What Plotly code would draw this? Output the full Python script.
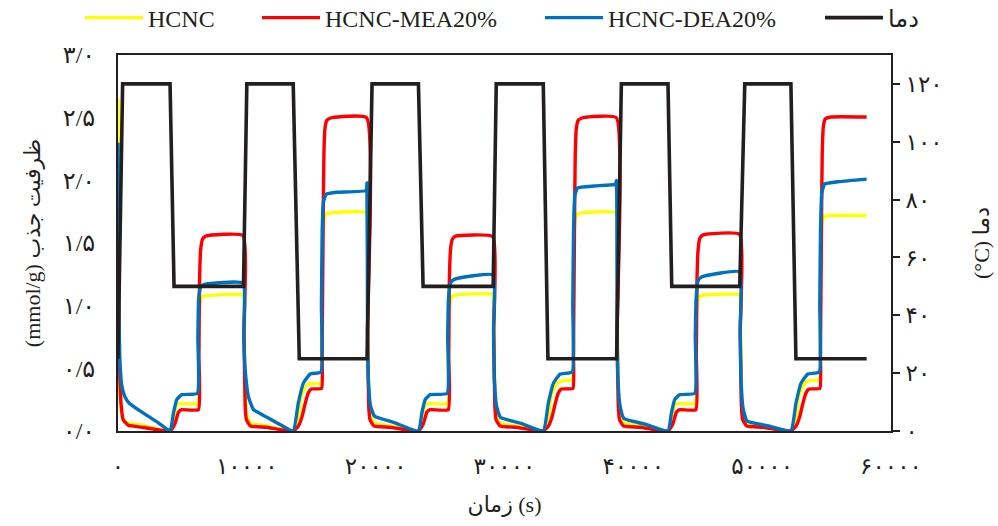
import plotly.graph_objects as go

# ---------------- data ----------------
# time in seconds
temp_t = [0, 360, 4040, 4350, 9740, 10000, 13600, 14070, 19330, 19720, 23320, 23680,
          29120, 29360, 33010, 33370, 38700, 39070, 42690, 42980, 48260, 48650, 52230,
          52620, 58110]
temp_v = [25, 120, 120, 50, 50, 120, 120, 25, 25, 120, 120, 50,
          50, 120, 120, 25, 25, 120, 120, 50, 50, 120, 120, 25, 25]

hcnc_t = [0, 60, 150, 300, 550, 2000, 4040,
          4300, 4560, 4950, 6200, 6240, 6300, 6400, 6600, 9700,
          9790, 9870, 9970, 10280, 11600, 13600,
          14000, 14220, 14600, 15000, 15780, 15820, 15880, 15960, 16130, 16500, 19300,
          19380, 19460, 19560, 19870, 21200, 23320,
          23580, 23840, 24230, 25590, 25630, 25690, 25790, 25990, 29100,
          29170, 29250, 29350, 29660, 31000, 33010,
          33410, 33630, 34010, 34410, 35290, 35330, 35390, 35470, 35640, 36000, 38680,
          38750, 38830, 38930, 39240, 40600, 42690,
          42950, 43210, 43600, 44810, 44850, 44910, 45010, 45210, 48240,
          48310, 48390, 48490, 48800, 50100, 52230,
          52630, 52850, 53230, 53630, 54460, 54500, 54560, 54640, 54810, 55200, 58110]
hcnc_v = [2.65, 1.10, 0.32, 0.14, 0.07, 0.045, 0.00,
          0.09, 0.21, 0.22, 0.22, 0.60, 0.95, 1.05, 1.075, 1.085,
          1.00, 0.30, 0.14, 0.065, 0.04, 0.00,
          0.10, 0.28, 0.36, 0.38, 0.38, 0.80, 1.50, 1.68, 1.73, 1.74, 1.74,
          1.00, 0.30, 0.14, 0.065, 0.04, 0.00,
          0.09, 0.21, 0.22, 0.22, 0.60, 0.95, 1.05, 1.08, 1.09,
          1.00, 0.30, 0.14, 0.065, 0.04, 0.00,
          0.10, 0.28, 0.37, 0.40, 0.41, 0.80, 1.50, 1.68, 1.73, 1.74, 1.74,
          1.00, 0.30, 0.14, 0.065, 0.04, 0.00,
          0.09, 0.21, 0.22, 0.22, 0.60, 0.95, 1.05, 1.08, 1.085,
          1.00, 0.30, 0.14, 0.065, 0.04, 0.00,
          0.10, 0.28, 0.37, 0.40, 0.41, 0.80, 1.50, 1.66, 1.71, 1.72, 1.72]

mea_t = [0, 100, 250, 400, 800, 2000, 4040,
         4430, 4690, 4950, 6240, 6280, 6330, 6420, 6560, 6800, 9700,
         9780, 9870, 9970, 10280, 11500, 13600,
         14000, 14300, 14530, 14750, 15000, 15800, 15840, 15920, 15980, 16070, 16220, 16600, 19300,
         19370, 19460, 19560, 19870, 21100, 23320,
         23710, 23970, 24230, 25630, 25670, 25720, 25810, 25950, 26200, 29100,
         29160, 29250, 29350, 29660, 30900, 33010,
         33410, 33710, 33940, 34160, 34410, 35310, 35350, 35430, 35490, 35580, 35730, 36100, 38680,
         38740, 38830, 38930, 39240, 40500, 42690,
         43080, 43340, 43600, 44850, 44890, 44940, 45030, 45170, 45420, 48240,
         48300, 48390, 48490, 48800, 50000, 52230,
         52630, 52930, 53160, 53380, 53630, 54480, 54520, 54600, 54660, 54750, 54900, 55300, 58110]
mea_v = [1.62, 0.60, 0.20, 0.09, 0.045, 0.028, 0.00,
         0.06, 0.15, 0.17, 0.17, 0.60, 1.20, 1.45, 1.53, 1.555, 1.56,
         0.80, 0.20, 0.09, 0.04, 0.03, 0.00,
         0.04, 0.12, 0.22, 0.30, 0.335, 0.34, 0.60, 1.60, 2.20, 2.42, 2.48, 2.50, 2.50,
         0.80, 0.20, 0.09, 0.04, 0.03, 0.00,
         0.06, 0.15, 0.17, 0.17, 0.60, 1.20, 1.45, 1.53, 1.555, 1.55,
         0.80, 0.20, 0.09, 0.04, 0.03, 0.00,
         0.04, 0.12, 0.22, 0.30, 0.335, 0.34, 0.60, 1.60, 2.20, 2.42, 2.48, 2.50, 2.50,
         0.80, 0.20, 0.09, 0.04, 0.03, 0.00,
         0.06, 0.15, 0.17, 0.17, 0.60, 1.20, 1.45, 1.54, 1.565, 1.57,
         0.80, 0.20, 0.09, 0.04, 0.03, 0.00,
         0.04, 0.12, 0.22, 0.30, 0.335, 0.34, 0.60, 1.60, 2.20, 2.43, 2.49, 2.505, 2.505]

dea_t = [0, 60, 150, 300, 550, 900, 2000, 3200, 4040,
         4300, 4560, 4950, 6160, 6200, 6260, 6420, 6700, 9700,
         9760, 9870, 10130, 10520, 11560, 12600, 13600,
         13990, 14380, 14920, 15750, 15790, 15850, 15950, 16170, 17000, 19260, 19320,
         19370, 19440, 19600, 19900, 21500, 23320,
         23580, 23840, 24230, 25550, 25590, 25650, 25810, 26100, 29100,
         29150, 29220, 29380, 29680, 31300, 33010,
         33400, 33790, 34330, 35260, 35300, 35360, 35460, 35680, 37000, 38620, 38690,
         38740, 38810, 38970, 39270, 40900, 42690,
         42950, 43210, 43600, 44770, 44810, 44870, 45030, 45320, 48240,
         48290, 48360, 48520, 48820, 50500, 52230,
         52620, 53010, 53550, 54430, 54470, 54530, 54630, 54850, 56000, 58110]
dea_v = [2.30, 1.00, 0.55, 0.36, 0.27, 0.22, 0.14, 0.06, 0.00,
         0.14, 0.25, 0.29, 0.30, 0.75, 1.05, 1.15, 1.17, 1.18,
         0.75, 0.49, 0.27, 0.17, 0.11, 0.05, 0.00,
         0.22, 0.38, 0.455, 0.47, 1.00, 1.60, 1.83, 1.89, 1.905, 1.92, 1.98,
         0.80, 0.40, 0.20, 0.12, 0.065, 0.00,
         0.14, 0.25, 0.29, 0.30, 0.75, 1.05, 1.18, 1.21, 1.245,
         0.80, 0.40, 0.20, 0.11, 0.06, 0.00,
         0.22, 0.38, 0.455, 0.47, 1.00, 1.60, 1.88, 1.94, 1.955, 1.97, 2.00,
         0.80, 0.40, 0.20, 0.10, 0.055, 0.00,
         0.14, 0.25, 0.29, 0.30, 0.75, 1.05, 1.20, 1.23, 1.27,
         0.80, 0.40, 0.18, 0.08, 0.04, 0.00,
         0.22, 0.38, 0.455, 0.47, 1.00, 1.60, 1.90, 1.97, 1.99, 2.01]

x_ticks = [0, 10000, 20000, 30000, 40000, 50000, 60000]
x_ticktext = ["۰", "۱۰۰۰۰", "۲۰۰۰۰", "۳۰۰۰۰", "۴۰۰۰۰", "۵۰۰۰۰", "۶۰۰۰۰"]
y_ticks = [0, 0.5, 1.0, 1.5, 2.0, 2.5, 3.0]
y_ticktext = ["۰/۰", "۰/۵", "۱/۰", "۱/۵", "۲/۰", "۲/۵", "۳/۰"]
y2_ticks = [0, 20, 40, 60, 80, 100, 120]
y2_ticktext = ["۰", "۲۰", "۴۰", "۶۰", "۸۰", "۱۰۰", "۱۲۰"]

names = ["HCNC", "HCNC-MEA20%", "HCNC-DEA20%", "دما"]
colors = ["#FFFF00", "#FF0000", "#0070C0", "#231F20"]

# ---------------- figure ----------------
FONT = "Liberation Serif, DejaVu Sans, serif"
INK = "#231F20"
L, R, T, B = 118, 107, 55, 95
W, H = 998, 526
curve = dict(width=3.4, shape="spline", smoothing=0.4)

fig = go.Figure()
fig.add_trace(go.Scatter(x=temp_t, y=temp_v, name=names[3], yaxis="y2", mode="lines",
                         line=dict(color=colors[3], width=3.6), legend="legend4",
                         showlegend=True))
fig.add_trace(go.Scatter(x=hcnc_t, y=hcnc_v, name=names[0], mode="lines",
                         line=dict(color=colors[0], **curve), legend="legend",
                         showlegend=True))
fig.add_trace(go.Scatter(x=mea_t, y=mea_v, name=names[1], mode="lines",
                         line=dict(color=colors[1], **curve), legend="legend2",
                         showlegend=True))
fig.add_trace(go.Scatter(x=dea_t, y=dea_v, name=names[2], mode="lines",
                         line=dict(color=colors[2], **curve), legend="legend3",
                         showlegend=True))

legend_common = dict(orientation="h", yanchor="middle", xanchor="left",
                     xref="container", yref="container",
                     y=1 - 18 / H, bgcolor="rgba(0,0,0,0)",
                     font=dict(family=FONT, size=24, color=INK), itemwidth=58)
fig.update_layout(
    showlegend=True,
    legend=dict(x=80 / W, **legend_common),
    legend2=dict(x=257 / W, **legend_common),
    legend3=dict(x=540 / W, **legend_common),
    legend4=dict(x=820 / W, **legend_common),
)

fig.update_layout(
    width=W, height=H,
    margin=dict(l=L, r=R, t=T, b=B, autoexpand=False),
    paper_bgcolor="white", plot_bgcolor="white",
    font=dict(family=FONT, color=INK),
    xaxis=dict(range=[0, 60000], tickvals=x_ticks, ticktext=x_ticktext,
               showgrid=False, zeroline=False, showline=True, linecolor=INK,
               linewidth=2, mirror=True, ticks="", ticklabelstandoff=13,
               tickfont=dict(size=23, family=FONT, color=INK),
               title=dict(text="زمان (s)", font=dict(size=22, family=FONT, color=INK),
                          standoff=19)),
    yaxis=dict(range=[0, 3], tickvals=y_ticks, ticktext=y_ticktext,
               showgrid=False, zeroline=False, showline=True, linecolor=INK,
               linewidth=2, mirror=True, ticks="", ticklabelstandoff=16,
               tickfont=dict(size=24, family=FONT, color=INK),
               title=dict(text="(mmol/g) ظرفیت جذب", font=dict(size=22, family=FONT, color=INK),
                          standoff=16)),
    yaxis2=dict(range=[0, 130], overlaying="y", side="right", tickvals=y2_ticks,
                ticktext=y2_ticktext, showgrid=False, zeroline=False, showline=True,
                linecolor=INK, linewidth=2, ticks="outside", ticklen=7, tickwidth=2,
                tickcolor=INK, ticklabelstandoff=1,
                tickfont=dict(size=23, family=FONT, color=INK),
                title=dict(text="(°C) دما", font=dict(size=22, family=FONT, color=INK),
                           standoff=32)),
)

fig.write_html("out.html", config={"displayModeBar": False},
               post_script="document.body.style.margin='0px';")
